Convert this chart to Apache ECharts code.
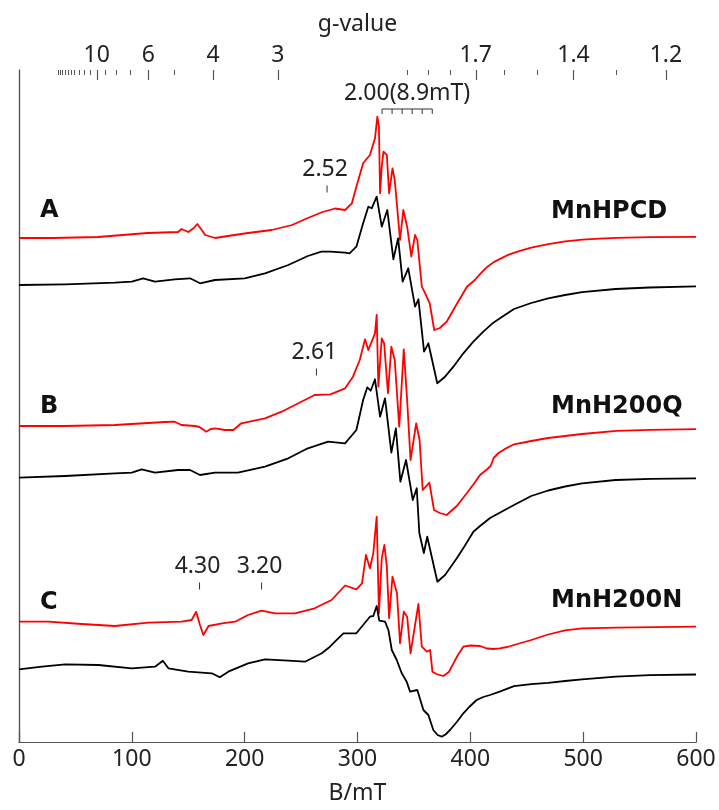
<!DOCTYPE html>
<html><head><meta charset="utf-8">
<script src="https://cdn.jsdelivr.net/npm/echarts@6/dist/echarts.min.js"></script>
<style>html,body{margin:0;padding:0;background:#fff}#c{width:719px;height:810px}</style>
</head><body><div id="c"></div>
<script>
// B (mT) = K_G / g  (X-band, ~9.63 GHz)
const K_G = 688.0;
const fieldMin = 0, fieldMax = 600, fieldStep = 100;
const intensityMax = 672;
const gMajor = [10, 6, 4, 3, 1.7, 1.4, 1.2];
const gMinor = [20, 19, 18, 17, 16, 15, 14, 13, 12, 11, 9, 8, 7, 5, 2.0, 1.9, 1.8, 1.6, 1.5, 1.3];

// spectra: [B (mT), intensity (a.u., stacked)]
const A_red = [[0,504],[30,504],[70,505],[114,509],[141,510],[144,513],[150,510],[155,514],[158,518],[162,512],[165,507],[174,504],[185,506],[203,509],[224,512],[242,517],[256,524],[269,530],[280,533.5],[289,532],[295,538.7],[299,555.3],[305,578.7],[311,587],[315.5,603.7],[317.6,625.3],[319,615],[320,548.7],[321.5,575.3],[323,590.3],[326,587],[328,548.7],[331,573.7],[333,562],[337.7,502],[340.6,532],[344,515.3],[347.7,485.3],[351,507],[353,502],[357,455.3],[360,448.7],[364,438.7],[368,412],[373,414],[379,420.3],[388,438],[397,455.3],[404,462],[408.6,467.9],[414.6,474.8],[420.7,479.9],[426.8,483.4],[432.8,486.8],[441.8,490.3],[454,494.4],[469.1,497.9],[484.2,500.6],[499.3,502.3],[514.5,503.4],[529.6,504.1],[559.8,504.8],[600,505.1]];
const A_black = [[0,457],[41,457.7],[85,459.3],[100,460.3],[110,463.7],[120.5,460.3],[138,462.7],[151.6,463.7],[160.4,458.7],[173.7,462],[200,463.7],[218,468.7],[238.7,477],[256,486],[268,490.3],[276,490.3],[289,489.3],[293,488.7],[299,495.3],[305,518.7],[309.6,535.3],[312.6,533.7],[317,545.3],[321.5,515.3],[326.4,532],[331.8,482.7],[336,503.7],[340,460.3],[345,473.7],[351,435.3],[354,442.7],[359,390.3],[362.8,398.7],[370.7,358.7],[377.6,365.3],[385,375.3],[393.8,388.7],[402.7,400.3],[411.5,410.3],[420.4,419.3],[426.3,423.7],[438.7,433],[454,439],[469,443.7],[484,447],[499,449.8],[528.8,453],[558.8,454.5],[600,455.6]];
const B_red = [[0,316],[41,316],[85,317],[129.4,320],[138,320.3],[144,317],[156,316],[160,315],[166,310.3],[170,313],[174,313.7],[182.6,312],[190,312],[197,318.7],[218,323.7],[232.8,330.3],[247.6,338.7],[262,347],[276,347.7],[289,353.7],[296,365.3],[302,382],[306.7,402.7],[309.6,392],[315.5,408.7],[317,427],[318.5,355.3],[321.5,403.7],[323.6,398.7],[327,348.7],[330,395.3],[333,382],[337,315.3],[341,392.7],[344,342],[347,282],[352,318.7],[355,302],[357.8,252],[363.7,259.3],[367.8,232],[373,229],[379,227],[388,236],[396.8,248.7],[403,258],[408.6,267],[414.6,272.5],[418,276],[420.7,284],[425,289],[430,292.6],[438.7,297.7],[454,301],[469,304],[484,306],[499,308],[529.6,311.1],[560,312.2],[600,312.8]];
const B_black = [[0,264.3],[41,266],[85,268.7],[100,269.3],[108.7,272.7],[120.5,269.3],[141,272],[151.6,272],[160.4,267],[173.7,269.3],[194,269.3],[218,275.3],[238.7,283.7],[256,293.7],[274,300.3],[289,298.7],[299,312],[305,342],[308.7,354.7],[311.7,351.3],[315.5,362.7],[320,325.3],[324.4,343.7],[330,289.3],[334,313.7],[338,260.3],[343,282],[349,242],[352.5,253.7],[354.8,209],[358.8,189],[361.8,205.3],[365.8,185.3],[370.8,160.3],[377.6,167],[388,183.7],[395,196],[402.7,210.3],[408.6,216],[417.5,224],[426,229.3],[438.7,237],[454,246],[469,251.5],[484,255.5],[499,258.7],[528.8,262],[560,263.2],[600,263.7]];
const C_red = [[0,120.3],[26,120.3],[55.6,118],[85,116],[114.5,119.3],[144,120.3],[153,122],[157,130.3],[160.4,117],[163.4,107],[168,116],[180,118.7],[191.5,120.3],[203,127],[215,131.3],[227,128.7],[244.6,128.7],[262,133.7],[277,142],[289,156.5],[299,152.7],[304,158.7],[307.5,187],[311,173.7],[314,188.7],[317,225.3],[319,128.7],[321.5,183.7],[323.8,197],[326,175.3],[328,123.7],[331,165.3],[335,148.7],[337.7,98.7],[341,130.3],[344,125.3],[347,88.7],[354,138],[357,95.3],[361.5,90.3],[364.4,92],[366.4,70.3],[370,68],[376,66],[381,70],[385,78.7],[389,87],[393.8,95.3],[400,96.5],[408.6,96],[414.6,93.5],[420.7,93],[426,93.7],[432.8,95],[438.7,97],[454,102],[469,107.5],[484,111.7],[499,113.7],[530,114.4],[600,115.4]];
const C_black = [[0,72.7],[20.4,75.3],[41,77.7],[70.3,77],[100,73.7],[120.5,75.3],[127.5,81.3],[132.4,73.7],[150,70.3],[170.8,68.7],[178,64.7],[185.5,70.3],[203,78.7],[218,82.7],[238.7,81.3],[253.5,80.3],[268.3,88.7],[275.6,95.3],[280,100.3],[287.5,108.7],[299,108.7],[305,117],[311,125.3],[314,126],[317,136],[319.3,121.3],[324.4,120.3],[327.4,112],[330.4,92],[334.8,82],[339.2,68.7],[343.6,60.3],[346.6,50.3],[353,52],[358.4,32],[362.8,27],[367.2,12],[371,7],[374.6,5.3],[378,7.5],[382,12],[388,20],[393.8,28.7],[399,35],[405.6,42],[411.5,45],[417.5,47],[426,50.3],[438.7,55.8],[454,57.8],[469,59.2],[484,61],[499,62.7],[529,65.4],[559,66.8],[600,67.5]];

// g-value markers: [g, label, intensity level of tick]
const gMarkG = [2.52, 2.61, 4.30, 3.20];
const gMarkText = ['2.52', '2.61', '4.30', '3.20'];
const gMarkLevel = [553, 370, 156, 156];
// hyperfine sextet bracket
const hfCenterG = 2.00, hfSplit = 8.9, hfLines = 6, hfLevel = 633;
const hfText = '2.00(8.9mT)';

const panelLetters = ['A', 'B', 'C'];
const sampleNames = ['MnHPCD', 'MnH200Q', 'MnH200N'];

const TXT = '#222';
const FONT = '"Noto Sans", "Open Sans", sans-serif';
const BOLDFONT = '"DejaVu Sans", "Noto Sans", sans-serif';
const AX = '#555';

const gToB = g => K_G / g;
const majorB = gMajor.map(gToB);
const gTickData = gMajor.map(g => [gToB(g), intensityMax, 1]).concat(gMinor.map(g => [gToB(g), intensityMax, 0]));
const majorLabelFor = v => {
  let best = 0, d = 1e9;
  majorB.forEach((b, i) => { if (Math.abs(b - v) < d) { d = Math.abs(b - v); best = i; } });
  return String(gMajor[best]);
};

const chart = echarts.init(document.getElementById('c'), null, {renderer: 'canvas'});

function line(data, color) {
  return {type: 'line', data, xAxisIndex: 0, yAxisIndex: 0, showSymbol: false, symbol: 'none',
    lineStyle: {color, width: 1.8, join: 'round'}, itemStyle: {color}, animation: false, silent: true, z: 3};
}

const markData = gMarkG.map((g, i) => [gToB(g), gMarkLevel[i], i]);
const hfData = [[gToB(hfCenterG), hfLevel]];

const option = {
  animation: false,
  backgroundColor: '#fff',
  grid: {left: 19, right: 23, top: 70, bottom: 68, outerBoundsMode: 'none'},
  xAxis: [
    {type: 'value', position: 'bottom', min: fieldMin, max: fieldMax, interval: fieldStep,
      name: 'B/mT', nameLocation: 'middle', nameGap: 40,
      nameTextStyle: {fontSize: 23, color: TXT, fontFamily: FONT},
      axisLine: {show: true, lineStyle: {color: AX, width: 1.2}},
      axisTick: {show: true, inside: true, length: 10, lineStyle: {color: AX, width: 1.2}},
      axisLabel: {fontSize: 23, color: TXT, fontFamily: FONT, margin: 6},
      splitLine: {show: false}},
    {type: 'value', position: 'top', min: fieldMin, max: fieldMax,
      name: 'g-value', nameLocation: 'middle', nameGap: 34,
      nameTextStyle: {fontSize: 23, color: TXT, fontFamily: FONT},
      axisLine: {show: true, lineStyle: {color: AX, width: 1.2}},
      axisTick: {show: false},
      axisLabel: {show: true, customValues: majorB, formatter: v => majorLabelFor(v), fontSize: 23, color: TXT, fontFamily: FONT, margin: 3},
      splitLine: {show: false}}
  ],
  yAxis: [
    {type: 'value', position: 'left', min: 0, max: intensityMax,
      axisLine: {show: true, lineStyle: {color: AX, width: 1.2}}, axisTick: {show: false},
      axisLabel: {show: false}, splitLine: {show: false}},
    {type: 'value', position: 'right', min: 0, max: intensityMax,
      axisLine: {show: true, lineStyle: {color: AX, width: 1.2}}, axisTick: {show: false},
      axisLabel: {show: false}, splitLine: {show: false}}
  ],
  series: [
    line(A_red, '#ff0000'), line(A_black, '#000000'),
    line(B_red, '#ff0000'), line(B_black, '#000000'),
    line(C_red, '#ff0000'), line(C_black, '#000000'),
    // g-value axis ticks (top axis, inward)
    {type: 'custom', xAxisIndex: 0, yAxisIndex: 0, data: gTickData, clip: false, silent: true, z: 6,
      encode: {x: 0, y: 1},
      renderItem: (params, api) => {
        const p = api.coord([api.value(0), api.value(1)]);
        const len = api.value(2) ? 10 : 5;
        const x = Math.round(p[0]) + 0.5;
        return {type: 'line', shape: {x1: x, y1: p[1], x2: x, y2: p[1] + len},
          style: {stroke: AX, lineWidth: api.value(2) ? 1.2 : 1}};
      }},
    {type: 'custom', xAxisIndex: 0, yAxisIndex: 0, data: markData, clip: false, silent: true, z: 5,
      encode: {x: 0, y: 1},
      renderItem: (params, api) => {
        const p = api.coord([api.value(0), api.value(1)]);
        const i = api.value(2);
        return {type: 'group', children: [
          {type: 'line', shape: {x1: p[0], y1: p[1] - 3.5, x2: p[0], y2: p[1] + 3.5}, style: {stroke: '#333', lineWidth: 1}},
          {type: 'text', style: {text: gMarkText[i], x: p[0] - 2, y: p[1] - 8, align: 'center', verticalAlign: 'bottom',
            font: '23px ' + FONT, fill: TXT}}
        ]};
      }},
    {type: 'custom', xAxisIndex: 0, yAxisIndex: 0, data: hfData, clip: false, silent: true, z: 5,
      encode: {x: 0, y: 1},
      renderItem: (params, api) => {
        const c = api.value(0);
        const half = hfSplit * (hfLines - 1) / 2;
        const pL = api.coord([c - half, api.value(1)]);
        const pR = api.coord([c + half, api.value(1)]);
        const kids = [{type: 'line', shape: {x1: pL[0], y1: pL[1], x2: pR[0], y2: pR[1]}, style: {stroke: '#333', lineWidth: 1}}];
        for (let k = 0; k < hfLines; k++) {
          const p = api.coord([c - half + k * hfSplit, api.value(1)]);
          kids.push({type: 'line', shape: {x1: p[0], y1: p[1], x2: p[0], y2: p[1] + 5}, style: {stroke: '#333', lineWidth: 1}});
        }
        const pc = api.coord([c, api.value(1)]);
        kids.push({type: 'text', style: {text: hfText, x: pc[0], y: pc[1] - 4, align: 'center', verticalAlign: 'bottom',
          font: '23px ' + FONT, fill: TXT}});
        return {type: 'group', children: kids};
      }}
  ],
  graphic: [
    ...panelLetters.map((t, i) => ({type: 'text', left: 40, top: [199, 395, 591][i],
      style: {text: t, font: 'bold 24px ' + BOLDFONT, fill: '#111'}})),
    ...sampleNames.map((t, i) => ({type: 'text', left: 551, top: [200, 395, 589][i],
      style: {text: t, font: 'bold 24px ' + BOLDFONT, fill: '#111'}}))
  ]
};
chart.setOption(option);
</script></body></html>
